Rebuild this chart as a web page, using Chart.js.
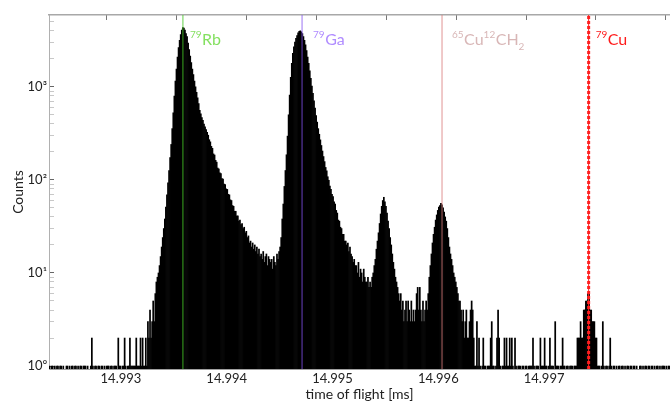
<!DOCTYPE html>
<html><head><meta charset="utf-8">
<script src="https://cdn.jsdelivr.net/npm/chart.js@4.4.0/dist/chart.umd.min.js"></script>
<style>html,body{margin:0;padding:0;background:#fff}canvas{display:block}</style>
</head><body>
<canvas id="c" width="670" height="401"></canvas>
<script>
// ---- data ----
const binStart = 14.99232;   // ms, left edge of first bin
const binWidth = 0.00001;    // ms
const counts = [
 1,0,1,1,0,1,0,1,1,0,
 1,1,0,1,0,0,1,1,0,1,
 0,1,1,0,1,1,0,1,0,1,
 1,0,1,1,1,0,1,0,0,1,
 2,1,0,1,1,0,1,1,0,1,
 1,0,1,0,1,1,1,0,1,1,
 0,1,1,1,0,2,1,1,0,1,
 1,2,1,0,1,1,2,1,1,1,
 1,1,2,1,1,1,2,1,2,1,
 1,2,1,3,2,4,2,3,5,3,
 6,8,9,10,12,15,19,24,30,38,
 51,69,93,126,174,240,355,525,794,1150,
 1550,2090,2630,3160,3630,4070,4310,4270,4070,3720,
 3470,2950,2510,2140,1820,1550,1350,1150,1000,870,
 760,660,560,513,468,437,398,372,347,324,
 302,270,256,229,218,190,185,162,155,134,
 131,119,117,103,102,90,89,80,79,70,
 69,61,60,53,52,46,46,41,41,36,
 37,33,34,30,31,27,28,24,25,21,
 22,19,21,18,20,17,19,16,18,15,
 16,14,17,13,15,16,12,15,14,13,
 14,11,15,13,12,16,14,17,19,24,
 38,55,85,126,186,295,500,813,1260,1780,
 2290,2690,3020,3310,3550,3800,3940,3980,3890,3720,
 3470,3160,2820,2450,2090,1780,1480,1230,1020,850,
 708,589,490,417,355,309,269,234,204,178,
 157,136,125,108,99,86,79,70,66,58,
 55,47,44,37,36,31,30,26,26,22,
 22,20,21,17,19,16,15,13,14,12,
 12,10,13,9,11,10,8,11,9,8,
 8,9,7,8,7,9,10,12,14,18,
 22,27,34,43,52,60,65,58,52,44,
 36,30,24,20,16,13,11,9,8,7,
 6,5,6,4,5,3,4,5,3,5,
 4,3,5,3,4,3,4,6,7,4,
 7,4,3,5,3,4,5,4,6,9,
 12,16,21,26,31,37,42,47,51,53,
 56,54,50,45,40,36,30,24,19,16,
 14,12,10,9,8,7,6,5,5,4,
 3,4,2,3,4,2,2,3,4,5,
 4,2,1,1,3,1,2,1,0,1,
 2,1,1,0,1,1,1,2,3,1,
 1,0,1,2,4,2,1,0,1,1,
 2,1,2,1,1,2,1,2,1,0,
 2,1,0,1,1,1,0,1,1,0,
 1,1,0,1,1,1,1,2,1,0,
 1,1,1,0,2,1,1,1,2,1,
 1,0,1,2,1,1,1,0,3,1,
 1,1,0,1,1,2,1,1,0,1,
 1,0,1,1,1,0,1,1,1,2,
 2,2,3,2,2,4,4,5,5,6,
 6,4,4,3,3,3,2,2,1,1,
 1,0,1,3,1,0,1,1,0,1,
 2,1,0,1,1,0,1,0,1,1,
 0,1,1,0,1,0,1,1,0,1,
 1,0,1,1,0,1,0,0,1,1,
 0,1,0,1,1,0,1,1,0,1,
 1,0,1,0,1,1,0,1,0,1,
 1,1,0,1,0,1,1
];
const xTickValues = [14.993, 14.994, 14.995, 14.996, 14.997];
const yTickValues = [1,2,3,4,5,6,7,8,9,10,20,30,40,50,60,70,80,90,100,200,300,400,500,600,700,800,900,1000,2000,3000,4000,5000];
const topTickValues = [0,1,2,3,4,5,6,7,8];
const markerPositions = [14.993586, 14.994712, 14.996035, 14.997421];
const markerLabels = [
  [['79','sup'],['Rb','']],
  [['79','sup'],['Ga','']],
  [['65','sup'],['Cu',''],['12','sup'],['CH',''],['2','sub']],
  [['79','sup'],['Cu','']]
];

// ---- styles ----
const FONT = 'Lato';
const markerStyles = [
  {line:'rgba(70,200,40,0.85)',  text:'#84e060', dx:7},
  {line:'rgba(130,80,240,0.8)', text:'#b08cff', dx:11},
  {line:'rgba(215,120,120,0.8)', text:'#d8b6b6', dx:10},
  {line:'#ff1f1f', text:'#ff1a1a', dx:7}
];
const yMin = 0.93, yMax = 5900;
const sup = {0:'\u2070',1:'\u00b9',2:'\u00b2',3:'\u00b3'};

const barData = counts.map((c,i)=>({x: binStart + (i+0.5)*binWidth, y: c>0 ? c : null}));

const datasets = [{
  type:'bar', data: barData, backgroundColor:'#000', borderWidth:0,
  barPercentage:1, categoryPercentage:1, order:10
}];
markerPositions.forEach((p,i)=>{
  const st = markerStyles[i];
  if (i === 3) {
    datasets.push({type:'line', data:[{x:p,y:yMin},{x:p,y:yMax}], borderColor:st.line, borderWidth:3, borderDash:[3,2], pointRadius:0, order:1});
    datasets.push({type:'line', data:[{x:p,y:yMin},{x:p,y:yMax}], borderColor:st.line, borderWidth:1, pointRadius:0, order:0});
  } else {
    datasets.push({type:'line', data:[{x:p,y:yMin},{x:p,y:yMax}], borderColor:st.line, borderWidth:1, pointRadius:0, order:1});
  }
});

const labelPlugin = {
  id:'markerLabels',
  afterDatasetsDraw(chart){
    const {ctx, chartArea, scales:{x}} = chart;
    ctx.save();
    ctx.textAlign='left'; ctx.textBaseline='alphabetic';
    const base = chartArea.top + 30;
    markerLabels.forEach((parts,i)=>{
      let px = x.getPixelForValue(markerPositions[i]) + markerStyles[i].dx;
      ctx.fillStyle = markerStyles[i].text;
      parts.forEach(([t,kind])=>{
        if (kind==='sup'){ ctx.font = '10px '+FONT; ctx.fillText(t, px, base-7); }
        else if (kind==='sub'){ ctx.font = '10px '+FONT; ctx.fillText(t, px, base+5); }
        else { ctx.font = '16px '+FONT; ctx.fillText(t, px, base); }
        px += ctx.measureText(t).width + (kind==='sup'?0.5:0);
      });
    });
    ctx.restore();
  }
};

new Chart(document.getElementById('c'), {
  type:'bar',
  data:{datasets},
  plugins:[labelPlugin],
  options:{
    responsive:false, animation:false, devicePixelRatio:1,
    layout:{padding:0},
    plugins:{legend:{display:false}, tooltip:{enabled:false}},
    scales:{
      x:{
        type:'linear', position:'bottom', min:14.99232, max:14.99819, offset:false,
        afterBuildTicks:s=>{ s.ticks = xTickValues.map(v=>({value:v})); },
        afterFit:s=>{ s.height = 32; },
        grid:{display:true, offset:false, drawOnChartArea:false, drawTicks:false},
        border:{display:true, color:'#a0a0a0'},
        ticks:{autoSkip:false, maxRotation:0, padding:2, color:'#222', font:{family:FONT,size:13},
          callback:v=>v.toFixed(3)},
        title:{display:true, text:'time of flight [ms]', color:'#222', font:{family:FONT,size:14,lineHeight:1}, padding:0}
      },
      x2:{
        type:'linear', position:'top', min:-0.8255, max:8.059, offset:false,
        afterBuildTicks:s=>{ s.ticks = topTickValues.map(v=>({value:v})); },
        afterFit:s=>{ s.height = 15; },
        grid:{display:true, offset:false, drawOnChartArea:false, drawTicks:true, tickLength:-5, tickColor:'#777'},
        border:{display:true, color:'#a8a8a8', width:1.5},
        ticks:{display:false}
      },
      y:{
        type:'logarithmic', position:'left', min:yMin, max:yMax,
        afterBuildTicks:s=>{ s.ticks = yTickValues.map(v=>({value:v})); },
        afterFit:s=>{ s.width = 49; },
        grid:{display:true, drawOnChartArea:false, drawTicks:true, tickLength:-5,
          tickColor:c=>{ const v=c.tick&&c.tick.value; const l=Math.log10(v); return Math.abs(l-Math.round(l))<1e-9 ? '#666' : '#c8c8c8'; }},
        border:{display:true, color:'#b0b0b0'},
        ticks:{autoSkip:false, padding:7, color:'#222', font:{family:FONT,size:13},
          callback:v=>{ const l=Math.log10(v); return Math.abs(l-Math.round(l))<1e-9 ? '10'+sup[Math.round(l)] : ''; }},
        title:{display:true, text:'Counts', color:'#222', font:{family:FONT,size:14}, padding:{top:10,bottom:0}}
      }
    }
  }
});
</script>
</body></html>
